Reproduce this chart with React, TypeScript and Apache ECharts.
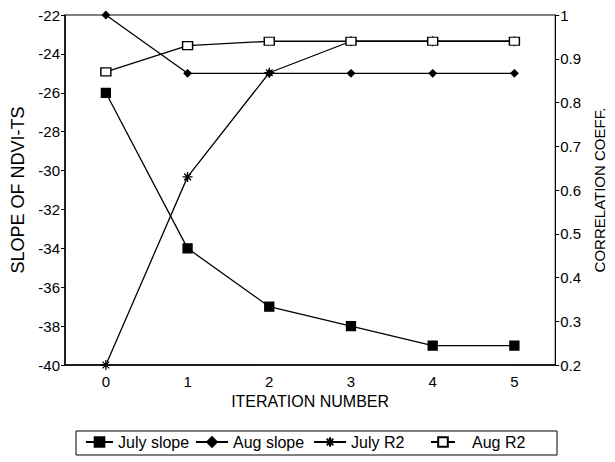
import React, { useEffect, useRef } from "react";
import * as echarts from "echarts";

const iterations = ["0", "1", "2", "3", "4", "5"];
const julySlope = [-26, -34, -37, -38, -39, -39];
const augSlope = [-22, -25, -25, -25, -25, -25];
const julyR2 = [0.2, 0.63, 0.868, 0.94, 0.94, 0.94];
const augR2 = [0.87, 0.93, 0.94, 0.94, 0.94, 0.94];
const seriesNames = ["July slope", "Aug slope", "July R2", "Aug R2"];

const FONT = "'Liberation Sans', Arial, sans-serif";
const ASTERISK = "path://M0 5L10 5M5 0L5 10M1.6 1.6L8.4 8.4M8.4 1.6L1.6 8.4";

export default function App() {
  const ref = useRef<HTMLDivElement>(null);
  useEffect(() => {
    if (!ref.current) return;
    const chart = echarts.init(ref.current, undefined, { renderer: "svg" });
    const axisText = { color: "#000", fontSize: 15, fontFamily: FONT };
    const lineSeries = (name: string, data: number[], yAxisIndex: number, symbol: string, symbolSize: any, fill: string) => ({
      name,
      type: "line",
      data,
      yAxisIndex,
      symbol,
      symbolSize,
      showSymbol: true,
      lineStyle: { color: "#000", width: 1.3 },
      itemStyle: { color: fill, borderColor: "#000", borderWidth: 1.3 },
      emphasis: { disabled: true },
    });
    const legendLayout = [
      { left: 85, w: 27, pad: 0 },
      { left: 195, w: 32, pad: 0 },
      { left: 313, w: 32, pad: 0 },
      { left: 430, w: 24, pad: 12 },
    ];
    chart.setOption({
      animation: false,
      backgroundColor: "#fff",
      textStyle: { fontFamily: FONT },
      grid: { left: 65, right: 49, top: 15, bottom: 97, show: true, borderColor: "#000", borderWidth: 1, backgroundColor: "transparent" },
      xAxis: {
        type: "category",
        data: iterations,
        boundaryGap: true,
        axisTick: { show: false },
        axisLine: { lineStyle: { color: "#000", width: 1.5 } },
        axisLabel: { ...axisText, margin: 9 },
        name: "ITERATION NUMBER",
        nameLocation: "middle",
        nameGap: 27,
        nameTextStyle: { color: "#000", fontSize: 16, fontFamily: FONT },
        splitLine: { show: false },
      },
      yAxis: [
        {
          type: "value",
          min: -40,
          max: -22,
          interval: 2,
          position: "left",
          axisLine: { show: true, lineStyle: { color: "#000", width: 1.5 } },
          axisTick: { show: true, length: 4, lineStyle: { color: "#000" } },
          axisLabel: { ...axisText, margin: 5 },
          splitLine: { show: false },
          name: "SLOPE OF NDVI-TS",
          nameLocation: "middle",
          nameGap: 37,
          nameTextStyle: { color: "#000", fontSize: 18, fontFamily: FONT },
        },
        {
          type: "value",
          min: 0.2,
          max: 1,
          interval: 0.1,
          position: "right",
          axisLine: { show: true, lineStyle: { color: "#000", width: 1 } },
          axisTick: { show: true, length: 4, lineStyle: { color: "#000" } },
          axisLabel: { ...axisText, margin: 5 },
          splitLine: { show: false },
          name: "CORRELATION COEFF.",
          nameLocation: "middle",
          nameGap: 35,
          nameTextStyle: { color: "#000", fontSize: 15, fontFamily: FONT },
        },
      ],
      legend: seriesNames.map((n, i) => ({
        data: [n],
        left: legendLayout[i].left,
        top: 434,
        padding: 0,
        itemWidth: legendLayout[i].w,
        itemHeight: 12,
        itemGap: 0,
        selectedMode: false,
        textStyle: { color: "#000", fontSize: 16, fontFamily: FONT, padding: [0, 0, 0, legendLayout[i].pad] },
      })),
      graphic: [
        {
          type: "rect",
          shape: { x: 76, y: 431, width: 481, height: 24 },
          style: { fill: "none", stroke: "#000", lineWidth: 1 },
          silent: true,
        },
      ],
      series: [
        lineSeries(seriesNames[0], julySlope, 0, "rect", 9, "#000"),
        lineSeries(seriesNames[1], augSlope, 0, "diamond", 7, "#000"),
        lineSeries(seriesNames[2], julyR2, 1, ASTERISK, 10, "#000"),
        lineSeries(seriesNames[3], augR2, 1, "rect", [10, 8], "#fff"),
      ],
    });
    return () => chart.dispose();
  }, []);
  return <div ref={ref} style={{ position: "absolute", left: 0, top: 0, width: 615, height: 462 }} />;
}
